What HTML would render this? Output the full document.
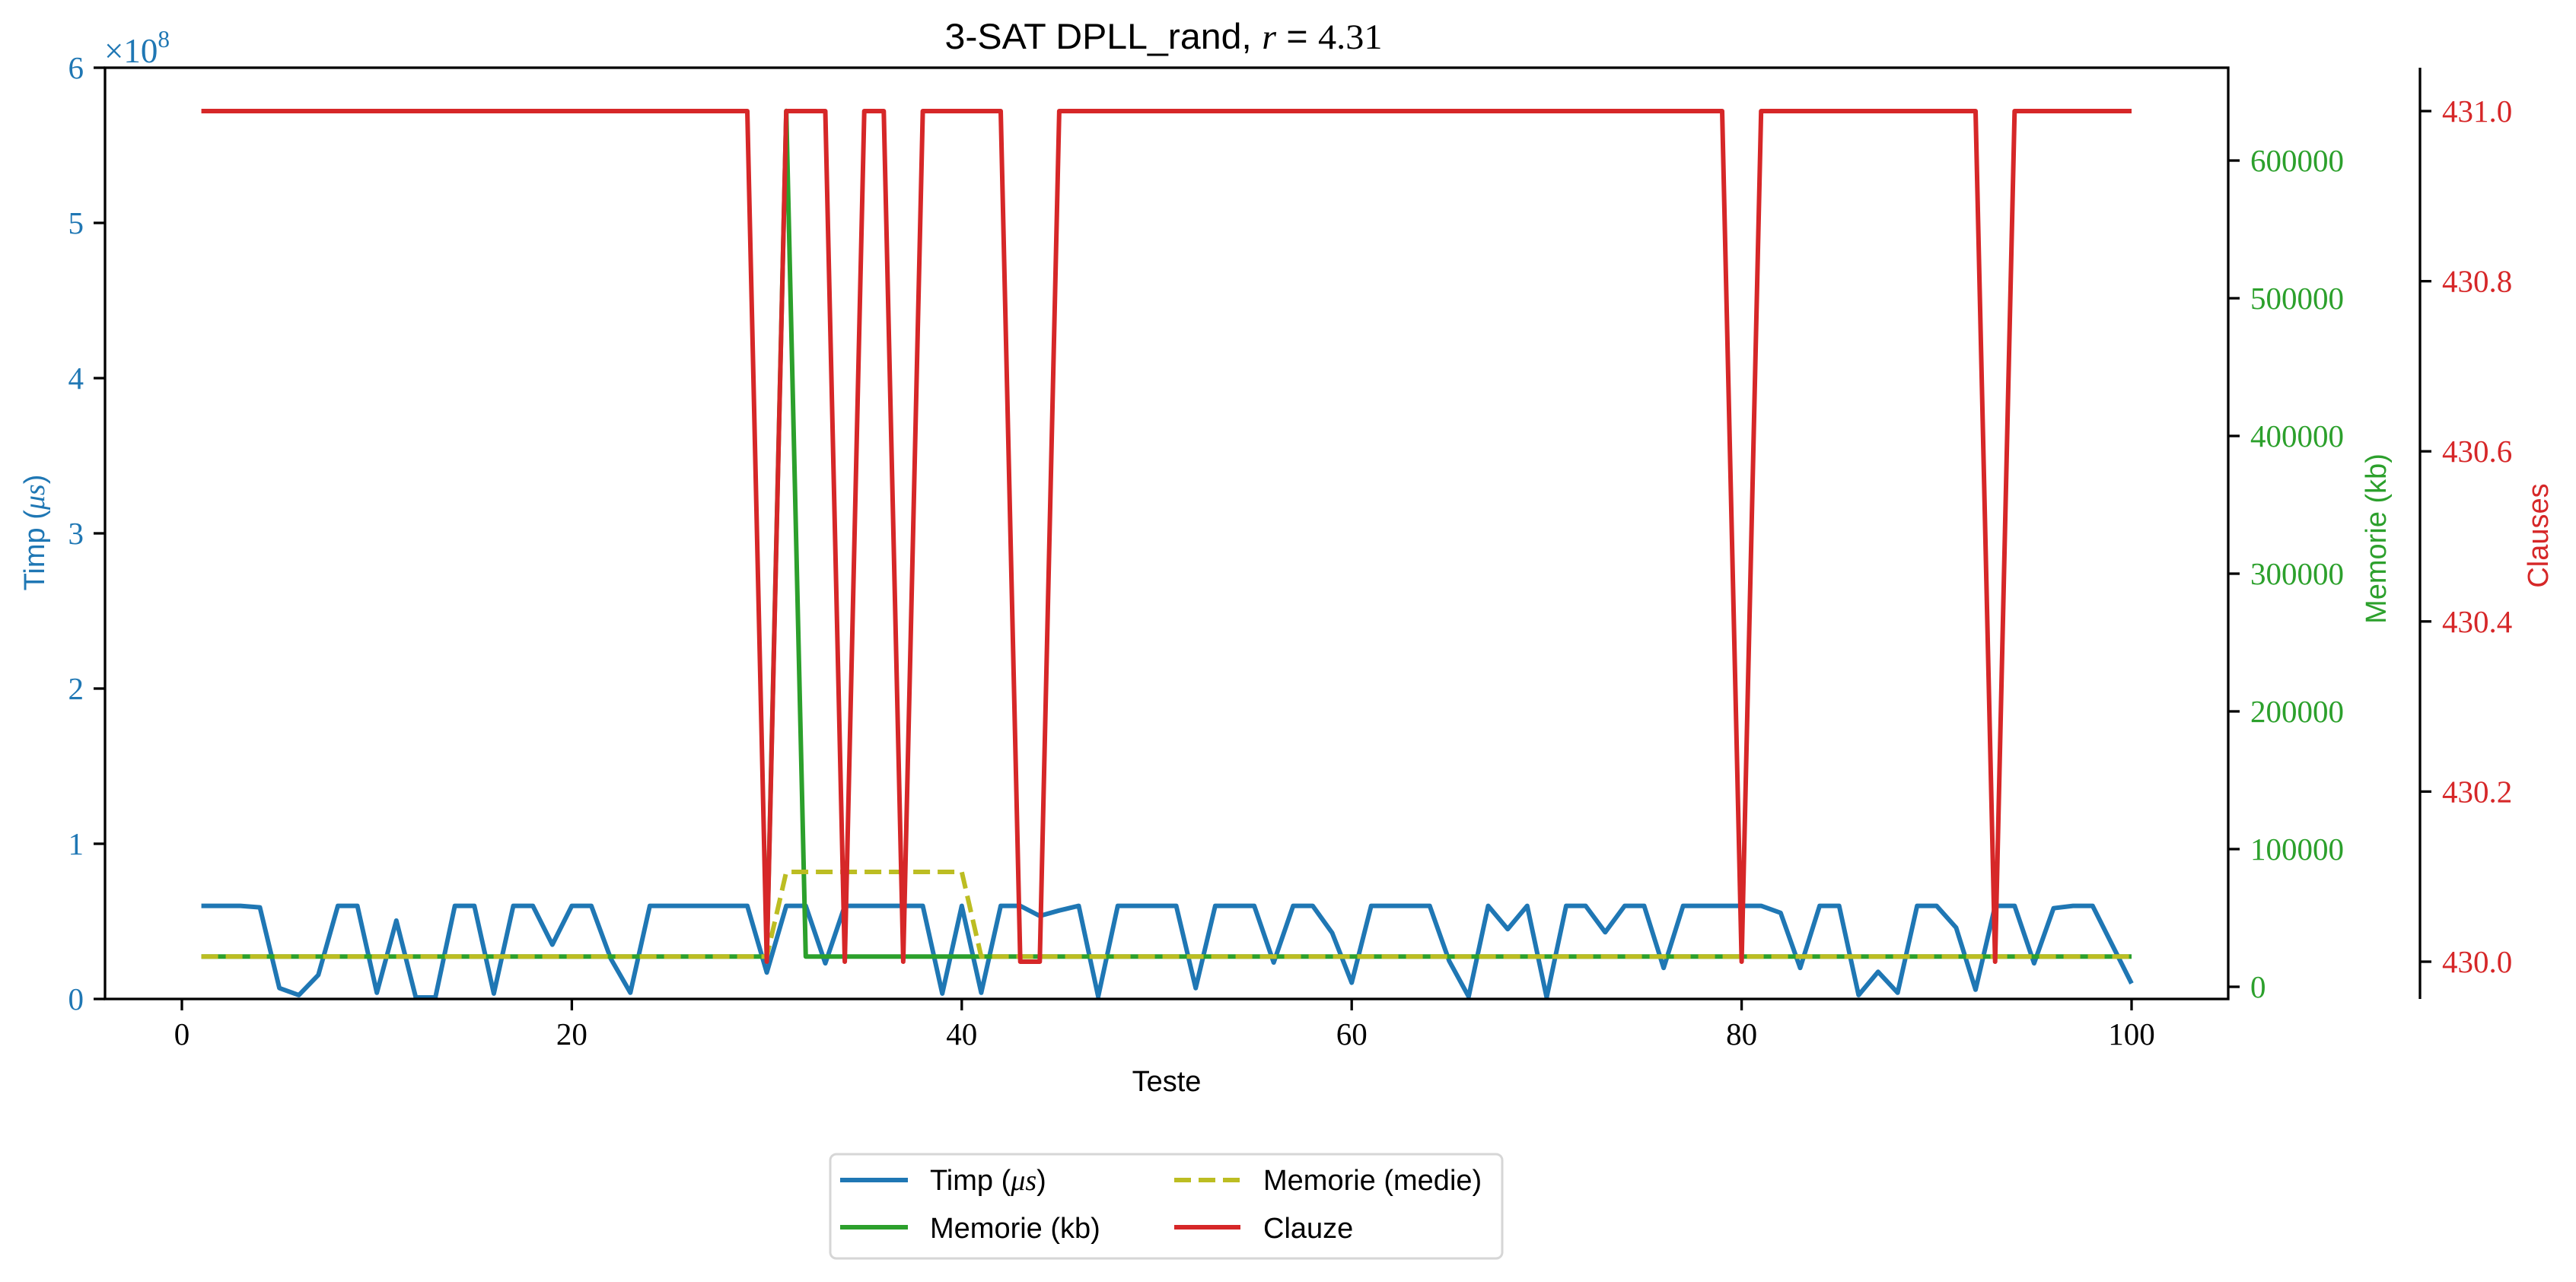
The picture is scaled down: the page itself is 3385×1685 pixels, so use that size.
<!DOCTYPE html>
<html><head><meta charset="utf-8"><style>
html,body{margin:0;padding:0;background:#fff;}
svg{display:block;}
.serif{font-family:"Liberation Serif","DejaVu Serif",serif;}
.sans{font-family:"Liberation Sans","DejaVu Sans",sans-serif;}
</style></head><body>
<svg id="chart" width="3385" height="1685" viewBox="0 0 3385 1685" xmlns="http://www.w3.org/2000/svg">
<rect width="3385" height="1685" fill="#fff"/>
<g id="marks"></g>
<g id="axes"></g>
</svg>
<script>
const tests = Array.from({length:100},(_,i)=>i+1);
const timp = [0.6,0.6,0.6,0.59,0.07,0.025,0.155,0.6,0.6,0.04,
0.505,0.01,0.01,0.6,0.6,0.035,0.6,0.6,0.35,0.6,
0.6,0.26,0.04,0.6,0.6,0.6,0.6,0.6,0.6,0.17,
0.6,0.6,0.23,0.6,0.6,0.6,0.6,0.6,0.035,0.6,
0.04,0.6,0.6,0.535,0.57,0.6,0.015,0.6,0.6,0.6,
0.6,0.07,0.6,0.6,0.6,0.235,0.6,0.6,0.425,0.105,
0.6,0.6,0.6,0.6,0.245,0.015,0.6,0.45,0.6,0.01,
0.6,0.6,0.43,0.6,0.6,0.2,0.6,0.6,0.6,0.6,
0.6,0.555,0.2,0.6,0.6,0.025,0.175,0.04,0.6,0.6,
0.46,0.06,0.6,0.6,0.23,0.585,0.6,0.6,0.35,0.1];
const memBase = 22000;
const memory = tests.map(t => t===31 ? 636000 : memBase);
const memoryMean = tests.map(t => (t>=31 && t<=40) ? 83400 : memBase);
const clauseDips = [30,34,37,43,44,80,93];
const clauses = tests.map(t => clauseDips.includes(t) ? 430 : 431);
const xTicks = [0,20,40,60,80,100];
const yLeftTicks = [0,1,2,3,4,5,6];
const yMemTicks = [0,100000,200000,300000,400000,500000,600000];
const yClTicks = ["430.0","430.2","430.4","430.6","430.8","431.0"];

const L=138,R=2928,T=89,B=1313;
const xs = v => 239 + v*25.62;
const yT = v => B - v/6*(B-T);
const yM = v => 1297 - v/100000*181;
const yC = v => 1264 - (v-430)*1118;
const NS="http://www.w3.org/2000/svg";
const marks=document.getElementById('marks'), axes=document.getElementById('axes');
function mk(tag,attrs,parent,text){const e=document.createElementNS(NS,tag);for(const k in attrs)e.setAttribute(k,attrs[k]);if(text!==undefined)e.textContent=text;parent.appendChild(e);return e;}
function poly(vals,yf,color,dash,name){
  const p=mk('polyline',{points:vals.map((v,i)=>xs(tests[i]).toFixed(1)+','+yf(v).toFixed(1)).join(' '),fill:'none',stroke:color,'stroke-width':6,'stroke-linejoin':'round',...(dash?{'stroke-dasharray':dash}:{})},marks);
  
  
}
poly(timp,yT,'#1f77b4',null,'timp-line');
poly(memory,yM,'#2ca02c',null,'memory-line');
poly(memoryMean,yM,'#bcbd22','22 10','memory-mean-line');
poly(clauses,yC,'#d62728',null,'clauses-line');

const fr=mk('rect',{x:L,y:T,width:R-L,height:B-T,fill:'none',stroke:'#000','stroke-width':3.3},axes);


function txt(x,y,s,attrs,name){const t=mk('text',{x:x,y:y,...attrs},axes,s);return t;}
xTicks.forEach(v=>{const x=xs(v);mk('line',{x1:x,y1:B,x2:x,y2:B+15,stroke:'#000','stroke-width':3.3},axes);
  txt(x,B+60,String(v),{'class':'serif','font-size':41,'text-anchor':'middle'},'x-tick-label');});
yLeftTicks.forEach(v=>{const y=yT(v);mk('line',{x1:L-15,y1:y,x2:L,y2:y,stroke:'#000','stroke-width':3.3},axes);
  txt(110,y+14,String(v),{'class':'serif','font-size':41,'text-anchor':'end',fill:'#1f77b4'},'left-tick-label');});
yMemTicks.forEach(v=>{const y=yM(v);mk('line',{x1:R,y1:y,x2:R+15,y2:y,stroke:'#000','stroke-width':3.3},axes);
  txt(2957,y+14,String(v),{'class':'serif','font-size':41,fill:'#2ca02c'},'memory-tick-label');});
mk('line',{x1:3180,y1:T,x2:3180,y2:B,stroke:'#000','stroke-width':3.3},axes);
yClTicks.forEach(s=>{const y=yC(parseFloat(s));mk('line',{x1:3180,y1:y,x2:3195,y2:y,stroke:'#000','stroke-width':3.3},axes);
  txt(3209,y+14,s,{'class':'serif','font-size':41,fill:'#d62728'},'clauses-tick-label');});
</script>
<svg style="position:absolute;left:0;top:0" width="3385" height="1685">
<text x="1529" y="64" class="sans" font-size="47" text-anchor="middle" textLength="575" lengthAdjust="spacingAndGlyphs">3-SAT DPLL_rand, <tspan class="serif" font-style="italic">r</tspan> = <tspan class="serif">4.31</tspan></text>
<text x="137" y="82" class="serif" font-size="46" fill="#1f77b4" textLength="86" lengthAdjust="spacingAndGlyphs">×10<tspan font-size="32" dy="-20">8</tspan></text>
<text x="1533" y="1434" class="sans" font-size="38" text-anchor="middle">Teste</text>
<text transform="translate(58,700) rotate(-90)" class="sans" font-size="38" text-anchor="middle" fill="#1f77b4">Timp (<tspan class="serif" font-style="italic">μs</tspan>)</text>
<text transform="translate(3135,708) rotate(-90)" class="sans" font-size="38" text-anchor="middle" fill="#2ca02c">Memorie (kb)</text>
<text transform="translate(3348,704) rotate(-90)" class="sans" font-size="38" text-anchor="middle" fill="#d62728">Clauses</text>
<g>
<rect x="1091" y="1517" width="883" height="137" rx="8" fill="#fff" stroke="#d6d6d6" stroke-width="3"/>
<g>
<line x1="1104" y1="1551" x2="1193" y2="1551" stroke="#1f77b4" stroke-width="6"/>
<text x="1222" y="1564" class="sans" font-size="38">Timp (<tspan class="serif" font-style="italic">μs</tspan>)</text></g>
<g>
<line x1="1104" y1="1613" x2="1193" y2="1613" stroke="#2ca02c" stroke-width="6"/>
<text x="1222" y="1627" class="sans" font-size="38">Memorie (kb)</text></g>
<g>
<line x1="1543" y1="1551" x2="1630" y2="1551" stroke="#bcbd22" stroke-width="6" stroke-dasharray="22 10"/>
<text x="1660" y="1564" class="sans" font-size="38">Memorie (medie)</text></g>
<g>
<line x1="1543" y1="1613" x2="1630" y2="1613" stroke="#d62728" stroke-width="6"/>
<text x="1660" y="1627" class="sans" font-size="38">Clauze</text></g>
</g>
</svg>
</body></html>
